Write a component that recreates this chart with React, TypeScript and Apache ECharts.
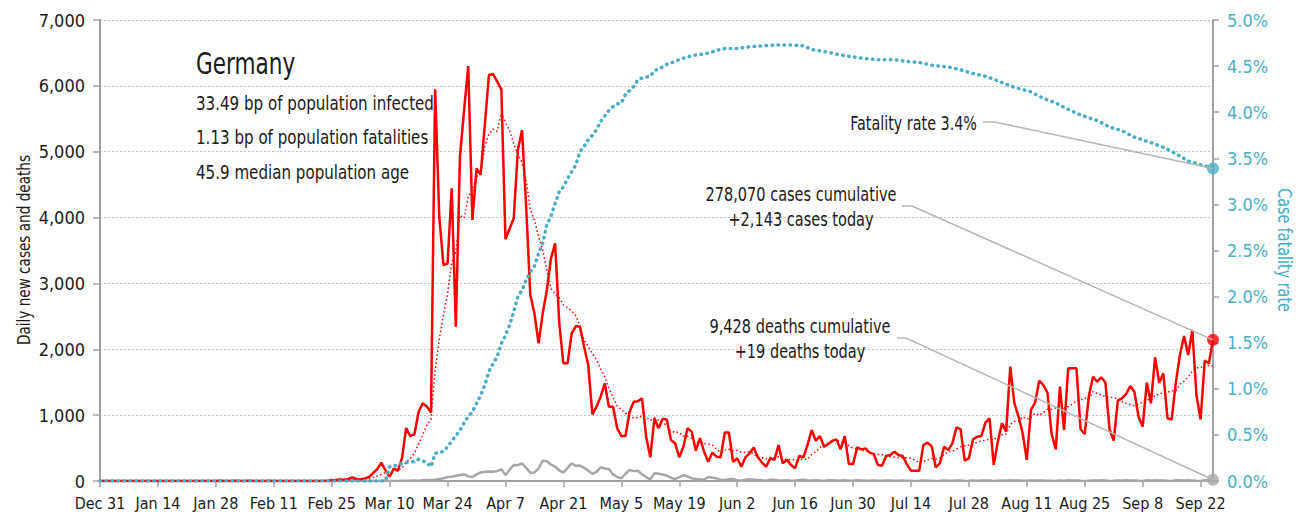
import React, { useEffect, useRef } from "react";
import * as echarts from "echarts";

// ---- categories: daily dates from Dec 31 (2019) for 270 days ----
const MONTHS = ["Jan", "Feb", "Mar", "Apr", "May", "Jun", "Jul", "Aug", "Sep", "Oct", "Nov", "Dec"];
const START_DATE = Date.UTC(2019, 11, 31);
const DAY_COUNT = 270;
const categories: string[] = [];
for (let i = 0; i < DAY_COUNT; i++) {
  const d = new Date(START_DATE + i * 86400000);
  categories.push(`${MONTHS[d.getUTCMonth()]} ${d.getUTCDate()}`);
}
const TICK_STEP = 14;

// ---- daily new cases (index 0 = Dec 31) ----
const dailyCases: number[] = [
  0, 0, 0, 0, 0, 0, 0, 0, 0, 0, 0, 0, 0, 0, 0, 0, 0, 0, 0, 0, 0, 0, 0, 0, 0, 0, 0, 0,
  1, 3, 0, 0, 1, 2, 0, 0, 2, 0, 0, 0, 0, 2, 0, 0, 0, 0, 0, 0, 0, 0, 0, 0, 0, 0, 0, 2,
  10, 16, 21, 18, 30, 55, 30, 25, 40, 60, 120, 180, 278, 160, 65, 190, 157, 350, 805, 680,
  713, 1052, 1180, 1130, 1040, 5948, 4013, 3280, 3300, 4444, 2343, 4925, 5633, 6301, 3963, 4748,
  4650, 5400, 6165, 6180, 6063, 5947, 3670, 3830, 3989, 5026, 5330, 4165, 2824, 2546, 2090, 2546,
  2900, 3381, 3609, 2394, 1787, 1787, 2243, 2353, 2343, 2040, 1761, 1012, 1128, 1280, 1483, 1128,
  1128, 800, 683, 683, 1052, 1204, 1210, 1255, 673, 360, 952, 800, 945, 930, 622, 572,
  360, 520, 800, 750, 460, 650, 445, 293, 430, 370, 360, 735, 735, 293, 345, 217,
  360, 420, 510, 360, 280, 217, 345, 320, 547, 270, 320, 245, 195, 380, 360, 547,
  775, 612, 683, 520, 560, 612, 632, 480, 683, 257, 257, 510, 480, 495, 430, 410,
  245, 230, 380, 395, 445, 395, 380, 257, 157, 157, 157, 547, 582, 530, 205, 270,
  520, 470, 572, 815, 785, 310, 345, 632, 673, 683, 885, 952, 245, 600, 875, 749,
  1736, 1180, 977, 724, 319, 1078, 1189, 1523, 1457, 1340, 713, 481, 1432, 774, 1711, 1711,
  1711, 785, 713, 1290, 1584, 1508, 1574, 1493, 785, 612, 1220, 1255, 1321, 1442, 1356, 977,
  825, 1493, 1180, 1878, 1493, 1635, 952, 935, 1483, 1913, 2202, 1913, 2293, 1306, 935, 1827,
  1787, 2143,
];

// ---- daily new deaths ----
const dailyDeaths: number[] = [
  0, 0, 0, 0, 0, 0, 0, 0, 0, 0, 0, 0, 0, 0, 0, 0, 0, 0, 0, 0, 0, 0, 0, 0, 0, 0, 0, 0,
  0, 0, 0, 0, 0, 0, 0, 0, 0, 0, 0, 0, 0, 0, 0, 0, 0, 0, 0, 0, 0, 0, 0, 0, 0, 0, 0, 0,
  0, 0, 0, 0, 0, 0, 0, 0, 0, 0, 0, 0, 0, 2, 0, 1, 0, 3, 2, 4,
  8, 4, 11, 14, 15, 20, 30, 42, 60, 65, 80, 90, 100, 70, 60, 100,
  130, 141, 145, 140, 150, 178, 91, 170, 243, 240, 268, 200, 126, 130, 190, 309,
  300, 250, 218, 160, 126, 200, 268, 230, 235, 200, 157, 110, 140, 208, 190, 180,
  100, 60, 40, 110, 167, 150, 155, 100, 60, 25, 117, 110, 100, 80, 50, 30,
  60, 91, 70, 40, 30, 25, 20, 60, 50, 40, 20, 15, 25, 30, 10, 5,
  20, 25, 20, 15, 10, 5, 18, 20, 12, 8, 10, 3, 6, 15, 20, 10,
  8, 12, 6, 5, 10, 12, 8, 6, 10, 3, 4, 12, 8, 6, 5, 7,
  2, 3, 6, 8, 5, 4, 6, 2, 3, 1, 2, 8, 6, 5, 1, 2,
  7, 5, 4, 8, 6, 1, 3, 7, 5, 6, 9, 7, 1, 4, 6, 5,
  11, 8, 7, 5, 2, 6, 9, 8, 6, 5, 3, 1, 7, 4, 10, 8,
  6, 2, 1, 5, 9, 7, 10, 6, 1, 2, 8, 6, 11, 9, 7, 2,
  1, 10, 8, 12, 9, 8, 2, 1, 13, 11, 9, 10, 7, 2, 1, 12,
  9, 19,
];

// ---- case fatality rate (%) read at day indices ----
const cfrDays: number[] = [
  0, 69, 70, 72, 73, 74, 76, 77, 79, 80, 81, 83, 84, 85, 86, 87, 88, 89, 90, 91, 92, 93, 94, 96,
  97, 98, 99, 100, 101, 102, 103, 104, 105, 106, 107, 108, 109, 110, 111, 112, 113, 115, 116, 117,
  118, 119, 120, 121, 122, 123, 124, 125, 126, 127, 129, 130, 131, 133, 134, 136, 137, 139, 140, 142,
  144, 147, 149, 151, 154, 157, 160, 164, 167, 170, 172, 176, 179, 182, 185, 188, 192, 195, 198, 201,
  205, 208, 211, 214, 217, 218, 221, 225, 228, 231, 234, 237, 241, 244, 247, 250, 254, 257, 260, 263,
  266, 269,
];
const cfrValues: number[] = [
  0, 0, 0.155, 0.174, 0.19, 0.2, 0.21, 0.235, 0.2, 0.155, 0.3, 0.32, 0.37, 0.43, 0.49, 0.55, 0.63, 0.7, 0.75, 0.84, 0.93, 1.04, 1.19, 1.35,
  1.49, 1.58, 1.69, 1.84, 2.0, 2.07, 2.18, 2.27, 2.33, 2.47, 2.58, 2.78, 2.87, 3.01, 3.14, 3.19, 3.28, 3.43, 3.57, 3.63,
  3.7, 3.75, 3.81, 3.9, 3.96, 4.02, 4.06, 4.09, 4.1, 4.19, 4.28, 4.35, 4.37, 4.39, 4.45, 4.49, 4.52, 4.55, 4.57, 4.6,
  4.62, 4.64, 4.67, 4.69, 4.69, 4.71, 4.72, 4.73, 4.73, 4.72, 4.68, 4.65, 4.62, 4.6, 4.58, 4.57, 4.57, 4.55, 4.54, 4.51,
  4.49, 4.46, 4.42, 4.39, 4.34, 4.32, 4.27, 4.22, 4.15, 4.1, 4.03, 3.97, 3.91, 3.84, 3.8, 3.73, 3.67, 3.62, 3.55, 3.47,
  3.43, 3.39,
];

const AVG_PERIOD = 7; // moving-average trendline period (as in the original chart)

// ---- tick values ----
const leftMax = 7000;
const leftStep = 1000;
const rightMax = 5;
const rightStep = 0.5;

// ---- texts ----
const COUNTRY = "Germany";
const INFO_LINES = [
  "33.49 bp of population infected",
  "1.13 bp of population fatalities",
  "45.9 median population age",
];
const FATALITY_LABEL = "Fatality rate 3.4%";
const CASES_LABEL = ["278,070 cases cumulative", "+2,143 cases today"];
const DEATHS_LABEL = ["9,428 deaths cumulative", "+19 deaths today"];
const LEFT_AXIS_NAME = "Daily new cases and deaths";
const RIGHT_AXIS_NAME = "Case fatality rate";

const RED = "#ff0000";
const TEAL = "#4bacc6";
const GREY = "#a6a6a6";
const AXIS_GREY = "#a0a0a0";
const TEXT = "#1a1a1a";
const FONT = "'Liberation Sans Narrow', 'DejaVu Sans Condensed', 'Arial Narrow', sans-serif";

function movingAverage(values: number[], period: number): (number | null)[] {
  return values.map((_, i) => {
    if (i < period - 1) return null;
    let s = 0;
    for (let k = i - period + 1; k <= i; k++) s += values[k];
    return s / period;
  });
}

export default function App() {
  const ref = useRef<HTMLDivElement>(null);

  useEffect(() => {
    if (!ref.current) return;
    const chart = echarts.init(ref.current, null, { renderer: "svg" });
    const last = DAY_COUNT - 1;
    const cfrData = cfrDays.map((d, i) => [d, cfrValues[i]]);
    const tickInterval = (i: number) => i % TICK_STEP === 0;

    chart.setOption({
      animation: false,
      textStyle: { fontFamily: FONT },
      grid: { left: 100, right: 94, top: 20, bottom: 42 },
      xAxis: {
        type: "category",
        data: categories,
        boundaryGap: false,
        axisLine: { lineStyle: { color: AXIS_GREY, width: 2 } },
        axisTick: { interval: tickInterval, length: 6, lineStyle: { color: AXIS_GREY, width: 1.5 } },
        axisLabel: { interval: tickInterval, color: TEXT, fontSize: 16, margin: 14, fontFamily: FONT },
        splitLine: { show: false },
      },
      yAxis: [
        {
          type: "value",
          min: 0,
          max: leftMax,
          interval: leftStep,
          axisLine: { show: true, lineStyle: { color: AXIS_GREY, width: 2 } },
          axisTick: { show: true, length: 7, lineStyle: { color: AXIS_GREY, width: 1.5 } },
          axisLabel: {
            color: TEXT,
            fontSize: 18,
            margin: 15,
            fontFamily: FONT,
            formatter: (v: number) => v.toLocaleString("en-US"),
          },
          splitLine: { show: true, lineStyle: { color: "#c0c0c0", type: [2, 2], width: 1 } },
        },
        {
          type: "value",
          min: 0,
          max: rightMax,
          interval: rightStep,
          position: "right",
          axisLine: { show: true, lineStyle: { color: AXIS_GREY, width: 2 } },
          axisTick: { show: true, length: 6, lineStyle: { color: AXIS_GREY, width: 1.5 } },
          axisLabel: {
            color: TEAL,
            fontSize: 18,
            margin: 14,
            fontFamily: FONT,
            formatter: (v: number) => v.toFixed(1) + "%",
          },
          splitLine: { show: false },
        },
      ],
      series: [
        {
          name: "Daily new cases",
          type: "line",
          data: dailyCases,
          showSymbol: false,
          lineStyle: { color: RED, width: 2.5 },
          itemStyle: { color: RED },
          z: 3,
        },
        {
          name: "7-day average",
          type: "line",
          data: movingAverage(dailyCases, AVG_PERIOD),
          showSymbol: false,
          lineStyle: { color: RED, width: 1.5, type: [1.5, 2.5] },
          itemStyle: { color: RED },
          z: 3,
        },
        {
          name: "Daily new deaths",
          type: "line",
          data: dailyDeaths,
          showSymbol: false,
          lineStyle: { color: GREY, width: 2.5 },
          itemStyle: { color: GREY },
          z: 2,
        },
        {
          name: "Case fatality rate",
          type: "line",
          yAxisIndex: 1,
          data: cfrData,
          showSymbol: false,
          lineStyle: { color: TEAL, width: 3.5, type: [0.5, 5.5], cap: "round" },
          itemStyle: { color: TEAL },
          z: 4,
        },
        {
          type: "scatter",
          data: [[last, dailyCases[last]]],
          symbolSize: 12,
          itemStyle: { color: RED },
          clip: false,
          z: 6,
        },
        {
          type: "scatter",
          data: [[last, dailyDeaths[last]]],
          symbolSize: 12,
          itemStyle: { color: GREY },
          clip: false,
          z: 6,
        },
        {
          type: "scatter",
          yAxisIndex: 1,
          data: [[last, cfrValues[cfrValues.length - 1]]],
          symbolSize: 12,
          itemStyle: { color: TEAL },
          clip: false,
          z: 6,
        },
      ],
    });

    const pCfr = chart.convertToPixel({ xAxisIndex: 0, yAxisIndex: 1 }, [last, cfrValues[cfrValues.length - 1]]) as number[];
    const pCases = chart.convertToPixel({ xAxisIndex: 0, yAxisIndex: 0 }, [last, dailyCases[last]]) as number[];
    const pDeaths = chart.convertToPixel({ xAxisIndex: 0, yAxisIndex: 0 }, [last, dailyDeaths[last]]) as number[];

    const leader = { stroke: "#b5b5b5", lineWidth: 1.5, fill: null };
    const txt = (
      text: string,
      x: number,
      y: number,
      size: number,
      align: string,
      scaleX: number,
      color: string = TEXT,
      rotation: number = 0
    ) => ({
      type: "text",
      x,
      y,
      scaleX,
      rotation,
      z: 100,
      style: {
        text,
        fill: color,
        fontSize: size,
        fontFamily: FONT,
        textAlign: align,
        textVerticalAlign: "middle",
      },
    });

    chart.setOption({
      graphic: [
        txt(COUNTRY, 196, 64, 30, "left", 0.8),
        txt(INFO_LINES[0], 196, 103, 20, "left", 0.84),
        txt(INFO_LINES[1], 196, 137, 20, "left", 0.84),
        txt(INFO_LINES[2], 196, 172, 20, "left", 0.84),
        txt(FATALITY_LABEL, 977, 124, 19, "right", 0.84),
        txt(CASES_LABEL[0], 801, 195, 19, "center", 0.85),
        txt(CASES_LABEL[1], 801, 220, 19, "center", 0.85),
        txt(DEATHS_LABEL[0], 800, 327, 19, "center", 0.85),
        txt(DEATHS_LABEL[1], 800, 352, 19, "center", 0.85),
        txt(LEFT_AXIS_NAME, 24, 250, 18, "center", 0.84, TEXT, Math.PI / 2),
        txt(RIGHT_AXIS_NAME, 1284, 250, 19, "center", 0.84, TEAL, -Math.PI / 2),
        { type: "polyline", z: 90, shape: { points: [[983, 122], [995, 122], pCfr] }, style: leader },
        { type: "polyline", z: 90, shape: { points: [[902, 206], [912, 206], pCases] }, style: leader },
        { type: "polyline", z: 90, shape: { points: [[897, 338], [906, 338], pDeaths] }, style: leader },
      ],
    });

    return () => chart.dispose();
  }, []);

  return (
    <div
      ref={ref}
      style={{ position: "fixed", left: 0, top: 0, width: 1307, height: 523, background: "#fff" }}
    />
  );
}
